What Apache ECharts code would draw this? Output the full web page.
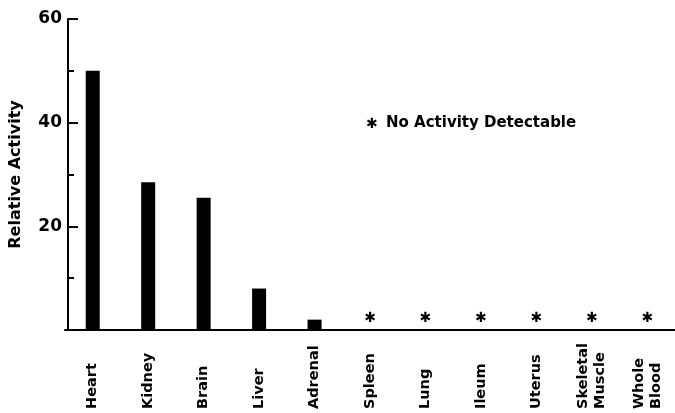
<!DOCTYPE html>
<html>
<head>
<meta charset="utf-8">
<script src="https://cdn.jsdelivr.net/npm/echarts@6/dist/echarts.min.js"></script>
<style>
  html, body { margin: 0; padding: 0; background: #fff; }
  #chart { width: 675px; height: 413px; }
</style>
</head>
<body>
<div id="chart"></div>
<script>
// Tissues assayed, left to right
const tissues = ['Heart', 'Kidney', 'Brain', 'Liver', 'Adrenal', 'Spleen', 'Lung', 'Ileum', 'Uterus', 'Skeletal\nMuscle', 'Whole\nBlood'];
// Relative enzyme activity per tissue (0 = none detectable)
const activity = [50, 28.5, 25.5, 8, 2, 0, 0, 0, 0, 0, 0];
// Y-axis labelled ticks
const yTicks = [20, 40, 60];
const noActivityMark = '\u2731';
const noteText = 'No Activity Detectable';

const FONT = 'DejaVu Sans';
const INK = '#000';

const chart = echarts.init(document.getElementById('chart'), null, { renderer: 'canvas' });

chart.setOption({
  animation: false,
  backgroundColor: '#fff',
  grid: { left: 65, right: -8, top: 19, bottom: 83, containLabel: false },
  xAxis: {
    type: 'category',
    data: tissues,
    boundaryGap: true,
    axisLine: { show: true, lineStyle: { color: INK, width: 2 } },
    axisTick: { show: false },
    axisLabel: {
      interval: 0,
      rotate: 90,
      align: 'left',
      margin: 79,
      color: INK,
      fontFamily: FONT,
      fontWeight: 'bold',
      fontSize: 14.5,
      lineHeight: 17
    }
  },
  yAxis: {
    type: 'value',
    min: 0,
    max: 60,
    interval: 20,
    offset: -3,
    name: 'Relative Activity',
    nameLocation: 'middle',
    nameRotate: 90,
    nameGap: 44,
    nameTextStyle: { color: INK, fontFamily: FONT, fontWeight: 'bold', fontSize: 16 },
    axisLine: { show: true, lineStyle: { color: INK, width: 2 } },
    axisTick: { show: true, inside: true, length: 10, lineStyle: { color: INK, width: 2 } },
    minorTick: { show: true, splitNumber: 2, length: 6, lineStyle: { color: INK, width: 2 } },
    splitLine: { show: false },
    axisLabel: {
      showMinLabel: false,
      margin: 6,
      color: INK,
      fontFamily: FONT,
      fontWeight: 'bold',
      fontSize: 17,
      formatter: v => (yTicks.indexOf(v) >= 0 ? String(v) : '')
    }
  },
  series: [{
    type: 'bar',
    data: activity,
    barWidth: 14,
    itemStyle: { color: INK },
    label: {
      show: true,
      position: 'top',
      distance: 5,
      color: INK,
      fontFamily: FONT,
      fontWeight: 'bold',
      fontSize: 14,
      formatter: p => (p.value === 0 ? noActivityMark : '')
    }
  }],
  graphic: [{
    type: 'text',
    left: 366,
    top: 117,
    style: {
      text: noActivityMark,
      fill: INK,
      font: 'bold 14px "' + FONT + '"'
    }
  }, {
    type: 'text',
    left: 386,
    top: 116,
    style: {
      text: noteText,
      fill: INK,
      font: 'bold 15px "' + FONT + '"'
    }
  }]
});
</script>
</body>
</html>
